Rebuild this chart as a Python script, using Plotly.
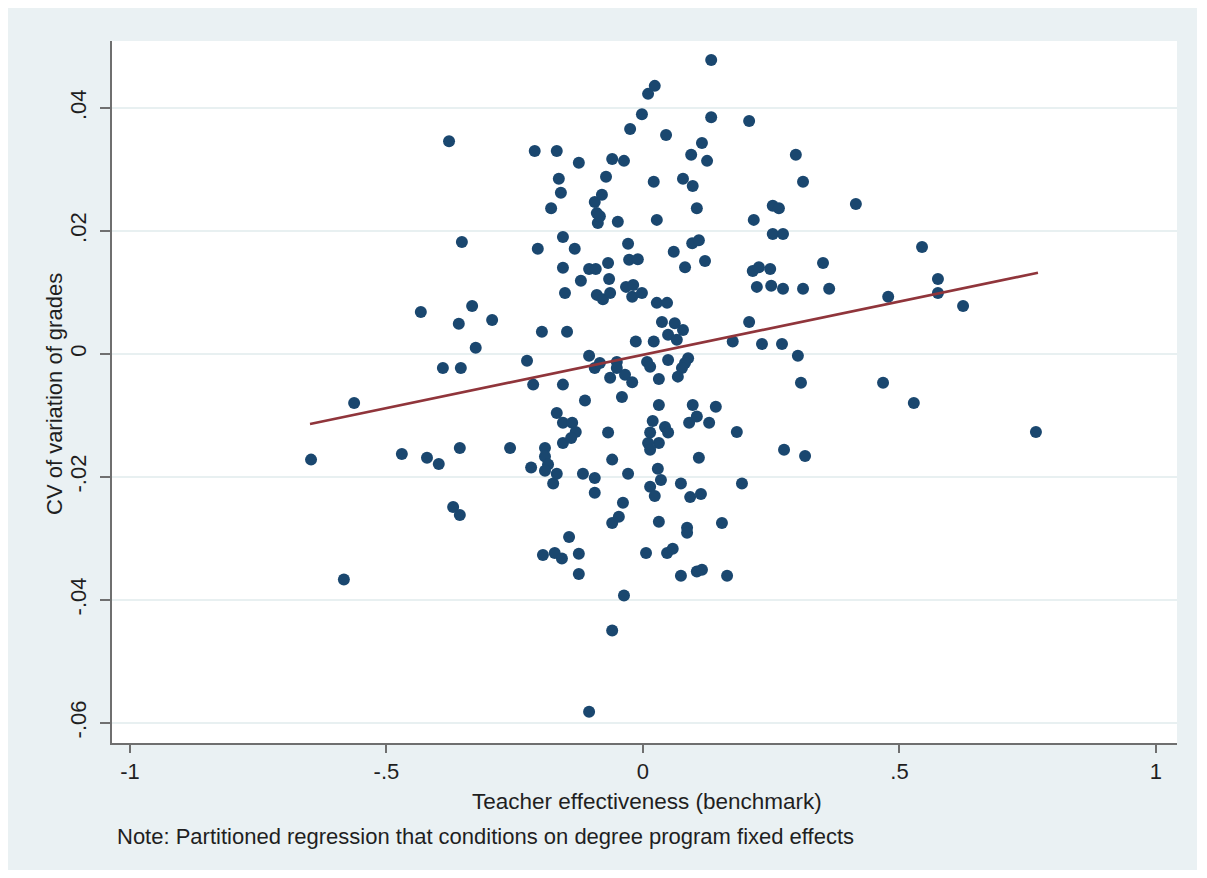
import plotly.graph_objects as go

# Teacher effectiveness (benchmark)
teacher_eff = [
    -0.647, -0.583, -0.563, -0.470, -0.433, -0.421, -0.398, -0.390, -0.378, -0.370,
    -0.357, -0.359, -0.357, -0.353, -0.355, -0.333, -0.326, -0.294, -0.259, -0.226,
    -0.218, -0.214, -0.211, -0.205, -0.197, -0.195, -0.191, -0.191, -0.185, -0.191,
    -0.175, -0.179, -0.172, -0.168, -0.168, -0.168, -0.164, -0.160, -0.158, -0.156,
    -0.156, -0.156, -0.156, -0.156, -0.152, -0.148, -0.144, -0.138, -0.131, -0.140,
    -0.133, -0.125, -0.125, -0.125, -0.121, -0.117, -0.113, -0.105, -0.105, -0.105,
    -0.094, -0.094, -0.092, -0.094, -0.090, -0.088, -0.084, -0.080, -0.090, -0.078,
    -0.094, -0.084, -0.064, -0.072, -0.068, -0.066, -0.064, -0.068, -0.060, -0.060,
    -0.060, -0.060, -0.051, -0.051, -0.049, -0.047, -0.041, -0.039, -0.037, -0.037,
    -0.035, -0.033, -0.029, -0.029, -0.027, -0.025, -0.021, -0.019, -0.021, -0.014,
    -0.010, -0.002, -0.002, 0.006, 0.008, 0.014, 0.010, 0.023, 0.021, 0.021,
    0.027, 0.027, 0.047, 0.037, 0.062, 0.078, 0.049, 0.066, 0.031, 0.049,
    0.088, 0.082, 0.076, 0.068, 0.019, 0.043, 0.049, 0.014, 0.031, 0.010,
    0.014, 0.029, 0.035, 0.014, 0.023, 0.031, 0.031, 0.097, 0.142, 0.090,
    0.105, 0.129, 0.183, 0.275, 0.316, 0.109, 0.074, 0.092, 0.113, 0.193,
    0.086, 0.086, 0.154, 0.047, 0.058, 0.074, 0.105, 0.115, 0.164, 0.133,
    0.133, 0.207, 0.045, 0.115, 0.094, 0.125, 0.298, 0.312, 0.078, 0.097,
    0.105, 0.415, 0.253, 0.265, 0.216, 0.253, 0.273, 0.544, 0.060, 0.096,
    0.109, 0.121, 0.082, 0.351, 0.214, 0.226, 0.248, 0.222, 0.250, 0.273,
    0.312, 0.363, 0.575, 0.575, 0.478, 0.624, 0.207, 0.175, 0.232, 0.271,
    0.302, 0.308, 0.468, 0.528, 0.766,
]

# CV of variation of grades
cv_grades = [
    -0.0172, -0.0367, -0.0080, -0.0163, 0.0068, -0.0169, -0.0179, -0.0023, 0.0346, -0.0249,
    -0.0262, 0.0049, -0.0153, 0.0182, -0.0023, 0.0078, 0.0010, 0.0055, -0.0153, -0.0011,
    -0.0185, -0.0050, 0.0330, 0.0171, 0.0036, -0.0327, -0.0153, -0.0167, -0.0180, -0.0190,
    -0.0211, 0.0237, -0.0324, -0.0096, 0.0330, -0.0195, 0.0285, 0.0262, -0.0333, 0.0190,
    0.0140, -0.0050, -0.0112, -0.0145, 0.0099, 0.0036, -0.0298, -0.0112, -0.0127, -0.0137,
    0.0171, 0.0311, -0.0325, -0.0358, 0.0119, -0.0195, -0.0076, -0.0003, 0.0138, -0.0582,
    -0.0202, -0.0226, 0.0138, 0.0247, 0.0229, 0.0213, 0.0224, 0.0259, 0.0096, 0.0089,
    -0.0023, -0.0015, -0.0039, 0.0288, 0.0148, 0.0122, 0.0099, -0.0128, -0.0172, 0.0317,
    -0.0275, -0.0450, -0.0013, -0.0023, 0.0215, -0.0265, -0.0070, -0.0242, 0.0314, -0.0393,
    -0.0034, 0.0109, 0.0179, -0.0195, 0.0153, 0.0366, -0.0046, 0.0112, 0.0093, 0.0020,
    0.0154, 0.0390, 0.0099, -0.0324, -0.0013, -0.0021, 0.0423, 0.0436, 0.0280, 0.0020,
    0.0218, 0.0083, 0.0083, 0.0052, 0.0050, 0.0039, 0.0031, 0.0023, -0.0041, -0.0010,
    -0.0007, -0.0015, -0.0023, -0.0037, -0.0109, -0.0119, -0.0128, -0.0128, -0.0145, -0.0145,
    -0.0156, -0.0187, -0.0205, -0.0216, -0.0231, -0.0273, -0.0083, -0.0083, -0.0086, -0.0112,
    -0.0102, -0.0112, -0.0127, -0.0156, -0.0166, -0.0169, -0.0211, -0.0233, -0.0228, -0.0211,
    -0.0283, -0.0291, -0.0275, -0.0324, -0.0317, -0.0361, -0.0354, -0.0351, -0.0361, 0.0478,
    0.0385, 0.0379, 0.0356, 0.0343, 0.0324, 0.0314, 0.0324, 0.0280, 0.0285, 0.0273,
    0.0237, 0.0244, 0.0241, 0.0237, 0.0218, 0.0195, 0.0195, 0.0174, 0.0166, 0.0180,
    0.0185, 0.0151, 0.0141, 0.0148, 0.0135, 0.0141, 0.0138, 0.0109, 0.0111, 0.0106,
    0.0106, 0.0106, 0.0122, 0.0099, 0.0093, 0.0078, 0.0052, 0.0020, 0.0016, 0.0016,
    -0.0003, -0.0047, -0.0047, -0.0080, -0.0127,
]

# Fitted regression line (endpoints)
fit_x = [-0.649, 0.770]
fit_y = [-0.0114, 0.0132]

x_tick_vals = [-1, -0.5, 0, 0.5, 1]
x_tick_text = ["-1", "-.5", "0", ".5", "1"]
y_tick_vals = [-0.06, -0.04, -0.02, 0, 0.02, 0.04]
y_tick_text = ["-.06", "-.04", "-.02", "0", ".02", ".04"]

FONT = "Liberation Sans, Arial, sans-serif"
TXT = "#1f1f1f"
OUTER = "#EAF1F3"
AXIS = "#6f6f6f"

fig = go.Figure()
fig.add_trace(go.Scatter(
    x=teacher_eff, y=cv_grades, mode="markers",
    marker=dict(color="#1A476F", size=12, line=dict(width=0)),
    showlegend=False, hoverinfo="skip",
))
fig.add_trace(go.Scatter(
    x=fit_x, y=fit_y, mode="lines",
    line=dict(color="#90353B", width=2.6),
    showlegend=False, hoverinfo="skip",
))

# page body has an 8px margin; figure sized to fit the window
OFF = 8
W, H = 1191, 862
L, R, T, B = 112 - OFF, W - (1177 - OFF), 41 - OFF, H - (743 - OFF)
pw, ph = W - L - R, H - T - B

def sx(px):
    return (px - OFF - L) / pw

def sy(py):
    return (H - B - (py - OFF)) / ph

shapes = [
    dict(type="rect", xref="paper", yref="paper", layer="below",
         x0=sx(5), x1=sx(1197), y0=sy(871), y1=sy(8),
         fillcolor=OUTER, line=dict(width=0)),
    dict(type="rect", xref="paper", yref="paper", layer="below",
         x0=0, x1=1, y0=0, y1=1, fillcolor="white", line=dict(width=0)),
]

annotations = [
    dict(text="Teacher effectiveness (benchmark)", xref="paper", yref="paper",
         x=sx(647), y=sy(801), showarrow=False,
         xanchor="center", yanchor="middle", font=dict(family=FONT, size=22.5, color=TXT)),
    dict(text="CV of variation of grades", xref="paper", yref="paper",
         x=sx(54), y=sy(394), showarrow=False, textangle=-90,
         xanchor="center", yanchor="middle", font=dict(family=FONT, size=22, color=TXT)),
    dict(text="Note: Partitioned regression that conditions on degree program fixed effects",
         xref="paper", yref="paper",
         x=sx(115), y=sy(836), showarrow=False,
         xanchor="left", yanchor="middle", font=dict(family=FONT, size=22, color=TXT)),
]

fig.update_layout(
    width=W, height=H,
    margin=dict(l=L, r=R, t=T, b=B, pad=0),
    paper_bgcolor="white", plot_bgcolor="white",
    font=dict(family=FONT, size=22, color=TXT),
    shapes=shapes, annotations=annotations,
    xaxis=dict(
        range=[-1.035, 1.041], tickvals=x_tick_vals, ticktext=x_tick_text,
        showgrid=False, zeroline=False, showline=True, linecolor=AXIS, linewidth=2,
        ticks="outside", ticklen=8, tickwidth=2, tickcolor=AXIS,
        tickfont=dict(family=FONT, size=22, color=TXT),
    ),
    yaxis=dict(
        range=[-0.0633, 0.0509], tickvals=y_tick_vals, ticktext=y_tick_text,
        showgrid=True, gridcolor="#E8F0F1", gridwidth=2,
        zeroline=False, showline=True, linecolor=AXIS, linewidth=2,
        ticks="outside", ticklen=10, tickwidth=2, tickcolor=AXIS, tickangle=-90,
        ticklabelstandoff=5,
        tickfont=dict(family=FONT, size=22, color=TXT),
    ),
)

fig.write_html("out.html")
